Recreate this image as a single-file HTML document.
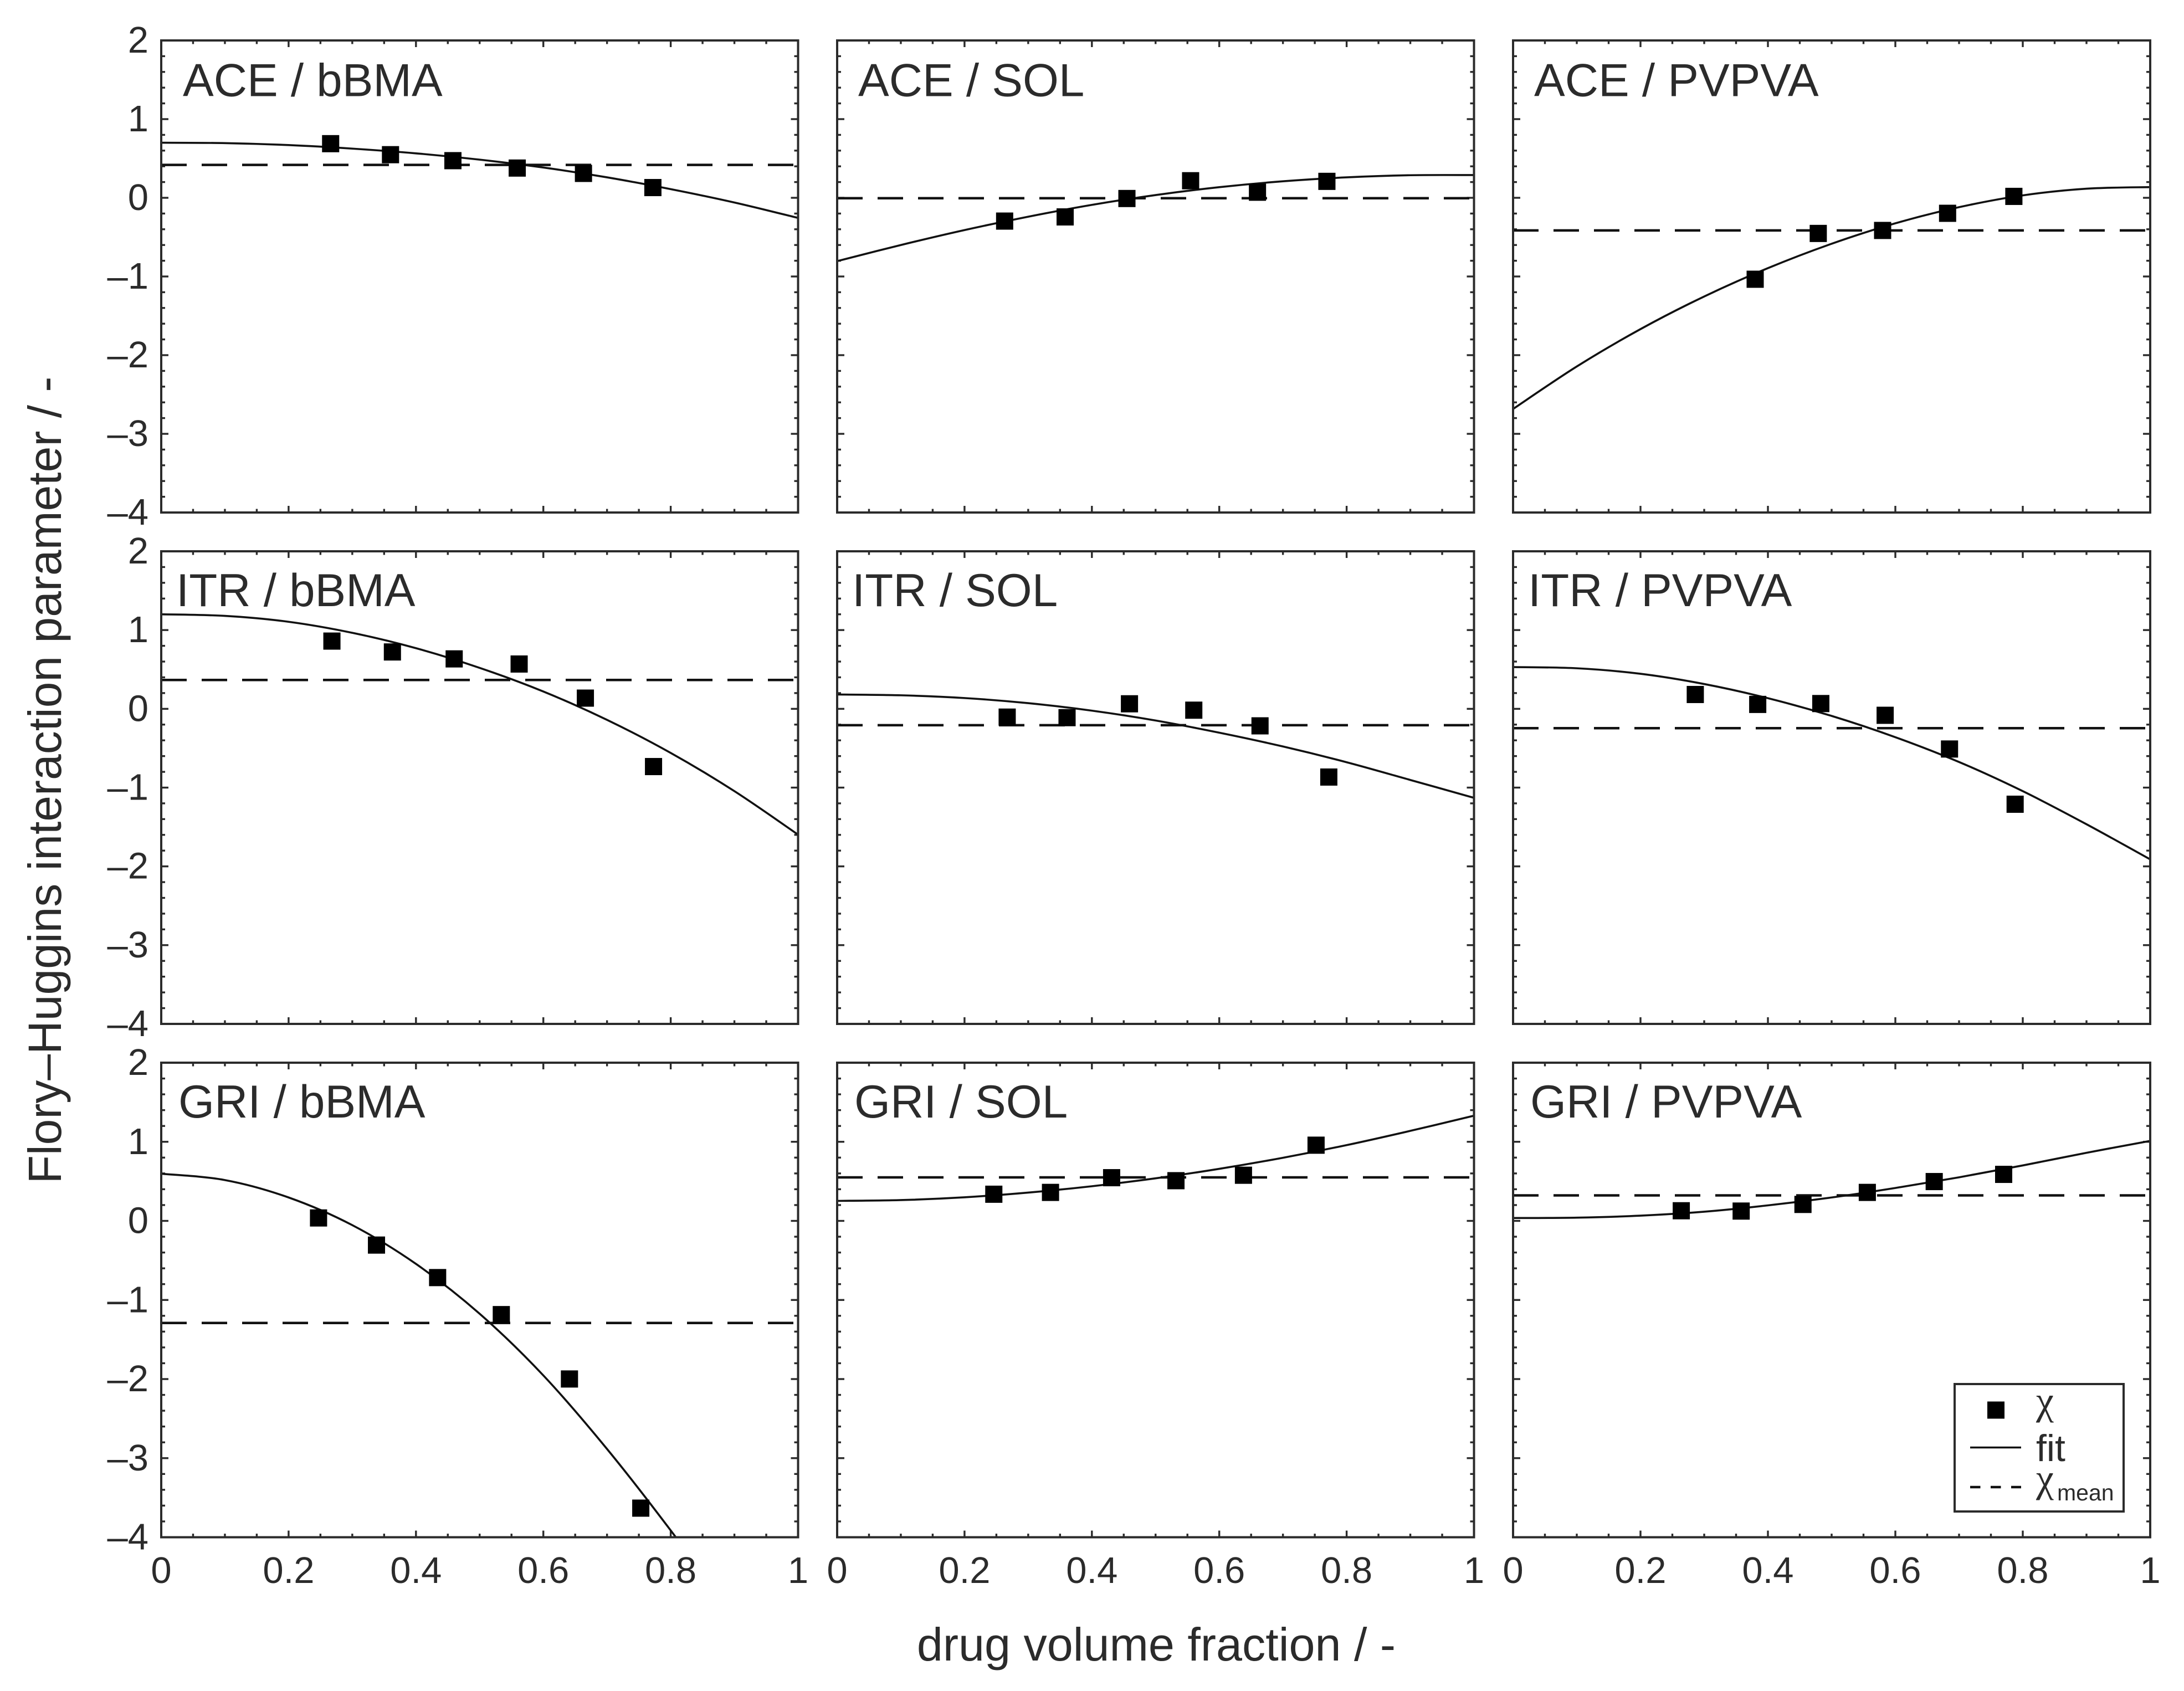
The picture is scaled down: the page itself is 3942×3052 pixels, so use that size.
<!DOCTYPE html>
<html lang="en">
<head>
<meta charset="utf-8">
<title>Flory–Huggins interaction parameter panels</title>
<style>
html,body{margin:0;padding:0;background:#fff;}
svg{display:block;font-family:"Liberation Sans",sans-serif;}
text{fill:#2b2b2b;}
</style>
</head>
<body>
<svg id="figure" xmlns="http://www.w3.org/2000/svg" width="3942" height="3052" viewBox="0 0 3942 3052">
<rect x="0" y="0" width="3942" height="3052" fill="#fff"/>
<text transform="translate(110,1408) rotate(-90)" text-anchor="middle" font-size="84">Flory–Huggins interaction parameter / -</text>
<text x="2087" y="2997" text-anchor="middle" font-size="84.5">drug volume fraction / -</text>
<g id="panels"></g>
<g>
<rect x="3528" y="2498" width="305" height="230" fill="#fff" stroke="#2b2b2b" stroke-width="4"/>
<rect x="3587" y="2529.5" width="31" height="31" fill="#000"/>
<text x="3675" y="2552" font-size="72" font-family="'Liberation Serif',serif">χ</text>
<line x1="3556" x2="3648" y1="2612.5" y2="2612.5" stroke="#111" stroke-width="3.5"/>
<text x="3675" y="2637" font-size="68">fit</text>
<line x1="3556" x2="3648" y1="2684" y2="2684" stroke="#111" stroke-width="4.5" stroke-dasharray="18.5 18.5"/>
<text x="3675" y="2692" font-size="72" font-family="'Liberation Serif',serif">χ</text>
<text x="3713" y="2708" font-size="41">mean</text>
</g>
</svg>
<script>
// Axis ticks
const xMajorTicks = [0, 0.2, 0.4, 0.6, 0.8, 1];
const xTickLabels = ['0', '0.2', '0.4', '0.6', '0.8', '1'];
const yMajorTicks = [2, 1, 0, -1, -2, -3, -4];
const yTickLabels = ['2', '1', '0', '–1', '–2', '–3', '–4'];
const xMinorStep = 0.05;
const yMinorStep = 0.2;

// Shared composition grid on which the fit curves were read
const fitPhi = [0, 0.1, 0.2, 0.3, 0.4, 0.5, 0.6, 0.7, 0.8, 0.9, 1];

// ACE / bBMA
const aceBbmaPhi = [0.266, 0.36, 0.458, 0.559, 0.663, 0.772];
const aceBbmaChi = [0.688, 0.548, 0.472, 0.378, 0.31, 0.13];
const aceBbmaFit = [0.70, 0.695, 0.67, 0.625, 0.565, 0.485, 0.385, 0.26, 0.11, -0.06, -0.256];
const aceBbmaMean = 0.418;
// ACE / SOL
const aceSolPhi = [0.263, 0.358, 0.455, 0.555, 0.660, 0.769];
const aceSolChi = [-0.296, -0.243, -0.009, 0.217, 0.071, 0.209];
const aceSolFit = [-0.805, -0.6, -0.41, -0.24, -0.09, 0.035, 0.135, 0.21, 0.26, 0.287, 0.289];
const aceSolMean = -0.005;
// ACE / PVPVA
const acePvpvaPhi = [0.380, 0.479, 0.580, 0.682, 0.786];
const acePvpvaChi = [-1.035, -0.453, -0.415, -0.197, 0.018];
const acePvpvaFit = [-2.684, -2.144, -1.669, -1.254, -0.894, -0.584, -0.324, -0.119, 0.031, 0.116, 0.136];
const acePvpvaMean = -0.415;
// ITR / bBMA
const itrBbmaPhi = [0.268, 0.363, 0.460, 0.562, 0.666, 0.773];
const itrBbmaChi = [0.860, 0.722, 0.634, 0.569, 0.136, -0.733];
const itrBbmaFit = [1.2, 1.18, 1.105, 0.965, 0.77, 0.52, 0.22, -0.14, -0.56, -1.045, -1.597];
const itrBbmaMean = 0.366;
// ITR / SOL
const itrSolPhi = [0.267, 0.361, 0.459, 0.560, 0.664, 0.772];
const itrSolChi = [-0.105, -0.112, 0.064, -0.017, -0.216, -0.866];
const itrSolFit = [0.182, 0.172, 0.137, 0.072, -0.023, -0.148, -0.303, -0.478, -0.678, -0.903, -1.13];
const itrSolMean = -0.208;
// ITR / PVPVA
const itrPvpvaPhi = [0.286, 0.384, 0.483, 0.584, 0.685, 0.788];
const itrPvpvaChi = [0.182, 0.056, 0.067, -0.082, -0.51, -1.211];
const itrPvpvaFit = [0.53, 0.515, 0.445, 0.315, 0.135, -0.09, -0.36, -0.675, -1.045, -1.465, -1.911];
const itrPvpvaMean = -0.246;
// GRI / bBMA
const griBbmaPhi = [0.247, 0.338, 0.434, 0.534, 0.641, 0.753];
const griBbmaChi = [0.037, -0.306, -0.717, -1.185, -1.999, -3.632];
const griBbmaFit = [0.596, 0.516, 0.296, -0.054, -0.544, -1.174, -1.954, -2.884, -3.914, -5.014, -6.19];
const griBbmaMean = -1.291;
// GRI / SOL
const griSolPhi = [0.246, 0.335, 0.431, 0.532, 0.638, 0.752];
const griSolChi = [0.337, 0.36, 0.546, 0.508, 0.577, 0.957];
const griSolFit = [0.253, 0.263, 0.298, 0.358, 0.438, 0.538, 0.658, 0.798, 0.958, 1.138, 1.33];
const griSolMean = 0.55;
// GRI / PVPVA
const griPvpvaPhi = [0.264, 0.358, 0.455, 0.556, 0.661, 0.770];
const griPvpvaChi = [0.128, 0.124, 0.208, 0.36, 0.497, 0.588];
const griPvpvaFit = [0.036, 0.041, 0.066, 0.116, 0.196, 0.296, 0.416, 0.551, 0.701, 0.861, 1.011];
const griPvpvaMean = 0.322;

const panelTitles = ['ACE / bBMA', 'ACE / SOL', 'ACE / PVPVA', 'ITR / bBMA', 'ITR / SOL', 'ITR / PVPVA', 'GRI / bBMA', 'GRI / SOL', 'GRI / PVPVA'];
const panelPhi = [aceBbmaPhi, aceSolPhi, acePvpvaPhi, itrBbmaPhi, itrSolPhi, itrPvpvaPhi, griBbmaPhi, griSolPhi, griPvpvaPhi];
const panelChi = [aceBbmaChi, aceSolChi, acePvpvaChi, itrBbmaChi, itrSolChi, itrPvpvaChi, griBbmaChi, griSolChi, griPvpvaChi];
const panelFit = [aceBbmaFit, aceSolFit, acePvpvaFit, itrBbmaFit, itrSolFit, itrPvpvaFit, griBbmaFit, griSolFit, griPvpvaFit];
const panelMean = [aceBbmaMean, aceSolMean, acePvpvaMean, itrBbmaMean, itrSolMean, itrPvpvaMean, griBbmaMean, griSolMean, griPvpvaMean];

const NS = 'http://www.w3.org/2000/svg';
const colLeft = [291, 1511, 2731];
const colRight = [1440.5, 2660.5, 3881];
const rowTop = [73, 995, 1918];
const rowBottom = [925, 1848, 2774.5];
const titleOffset = {A: 39, I: 27, G: 31};
const root = document.getElementById('panels');

function make(parent, tag, attrs, text) {
  const node = document.createElementNS(NS, tag);
  for (const key in attrs) node.setAttribute(key, attrs[key]);
  if (text !== undefined) node.textContent = text;
  parent.appendChild(node);
  return node;
}

function smoothPath(xs, ys) {
  let d = 'M' + xs[0].toFixed(2) + ' ' + ys[0].toFixed(2);
  for (let i = 0; i < xs.length - 1; i++) {
    const i0 = Math.max(i - 1, 0), i3 = Math.min(i + 2, xs.length - 1);
    const c1x = xs[i] + (xs[i + 1] - xs[i0]) / 6, c1y = ys[i] + (ys[i + 1] - ys[i0]) / 6;
    const c2x = xs[i + 1] - (xs[i3] - xs[i]) / 6, c2y = ys[i + 1] - (ys[i3] - ys[i]) / 6;
    d += 'C' + c1x.toFixed(2) + ' ' + c1y.toFixed(2) + ' ' + c2x.toFixed(2) + ' ' + c2y.toFixed(2) + ' ' + xs[i + 1].toFixed(2) + ' ' + ys[i + 1].toFixed(2);
  }
  return d;
}

function drawPanel(index) {
  const col = index % 3, row = Math.floor(index / 3);
  const left = colLeft[col], right = colRight[col], top = rowTop[row], bottom = rowBottom[row];
  const xScale = v => left + v * (right - left);
  const yScale = v => top + (2 - v) / 6 * (bottom - top);
  const slug = panelTitles[index].toLowerCase().replace(' / ', '-');

  const g = make(root, 'g', {});
  
  

  const clip = make(g, 'clipPath', {id: 'clip-' + index});
  make(clip, 'rect', {x: left, y: top, width: right - left, height: bottom - top});

  // ticks on all four sides
  const ticks = make(g, 'g', {stroke: '#2b2b2b', 'stroke-width': 3.4});
  
  
  for (let k = 0; k <= 20; k++) {
    const v = k * xMinorStep, len = k % 4 === 0 ? 12 : 6.5, x = xScale(v);
    make(ticks, 'line', {x1: x, x2: x, y1: bottom, y2: bottom - len});
    make(ticks, 'line', {x1: x, x2: x, y1: top, y2: top + len});
  }
  for (let k = 0; k <= 30; k++) {
    const v = 2 - k * yMinorStep, len = k % 5 === 0 ? 13 : 7, y = yScale(v);
    make(ticks, 'line', {x1: left, x2: left + len, y1: y, y2: y});
    make(ticks, 'line', {x1: right, x2: right - len, y1: y, y2: y});
  }

  // mean line
  const mean = make(g, 'line', {x1: left, x2: right, y1: yScale(panelMean[index]), y2: yScale(panelMean[index]), stroke: '#111', 'stroke-width': 4.5, 'stroke-dasharray': '46 27'});
  
  

  // fit curve
  const fit = make(g, 'path', {d: smoothPath(fitPhi.map(xScale), panelFit[index].map(yScale)), fill: 'none', stroke: '#111', 'stroke-width': 3.6, 'clip-path': 'url(#clip-' + index + ')'});
  
  

  // data points
  panelPhi[index].forEach((phi, i) => {
    const point = make(g, 'rect', {x: xScale(phi) - 15.5, y: yScale(panelChi[index][i]) - 15.5, width: 31, height: 31, fill: '#000'});
    
    
  });

  // frame
  const frame = make(g, 'rect', {x: left, y: top, width: right - left, height: bottom - top, fill: 'none', stroke: '#2b2b2b', 'stroke-width': 4});
  
  

  // title
  const name = panelTitles[index];
  const title = make(g, 'text', {x: left + titleOffset[name[0]] - (col > 0 && name[0] === 'A' ? 1 : 0), y: top + (row === 0 ? 100.5 : 99), 'font-size': 83.5}, name);
  
  

  // tick labels
  if (row === 2) {
    xMajorTicks.forEach((v, i) => {
      const label = make(g, 'text', {x: xScale(v), y: 2857, 'font-size': 67, 'text-anchor': 'middle'}, xTickLabels[i]);
      
      
    });
  }
  if (col === 0) {
    yMajorTicks.forEach((v, i) => {
      const label = make(g, 'text', {x: 268, y: yScale(v) + 22, 'font-size': 67, 'text-anchor': 'end'}, yTickLabels[i]);
      
      
    });
  }
}

panelTitles.forEach((_, i) => drawPanel(i));
</script>
</body>
</html>
